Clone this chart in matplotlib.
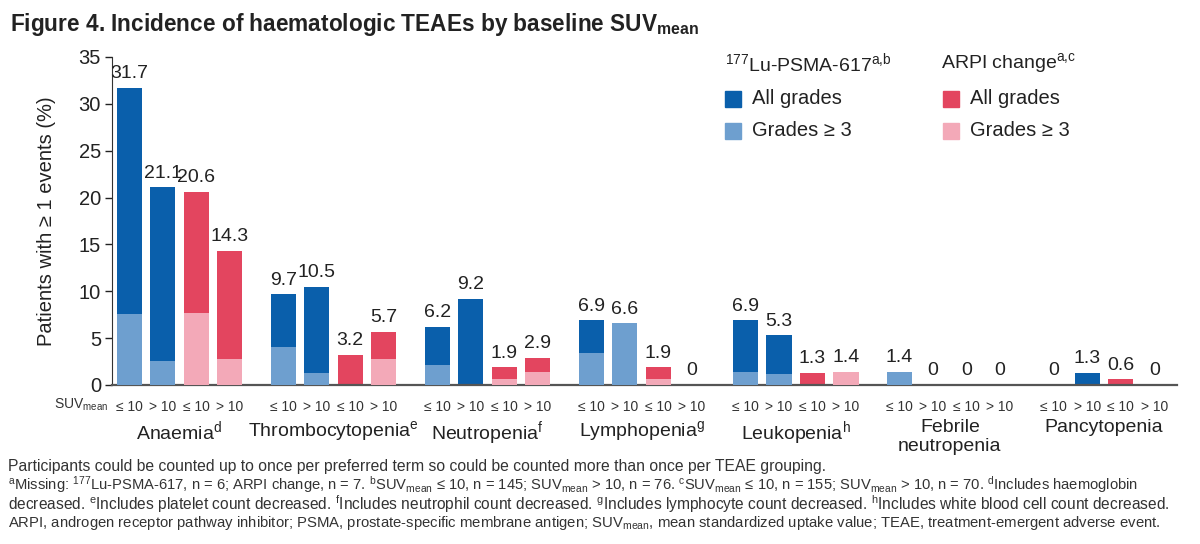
## Incidence of haematologic TEAEs by baseline SUVmean - grouped bar chart

import numpy as np
import matplotlib
matplotlib.use("Agg")
import matplotlib.pyplot as plt
from matplotlib.patches import Rectangle
from matplotlib.transforms import blended_transform_factory

plt.rcParams['font.family'] = ['Liberation Sans', 'DejaVu Sans']
plt.rcParams['mathtext.fontset'] = 'custom'
plt.rcParams['mathtext.rm'] = 'Liberation Sans'
plt.rcParams['mathtext.it'] = 'Liberation Sans:italic'
plt.rcParams['mathtext.bf'] = 'Liberation Sans:bold'

######################
####### DATA #########
######################

groups = ["Anaemia", "Thrombocytopenia", "Neutropenia", "Lymphopenia",
          "Leukopenia", "Febrile\nneutropenia", "Pancytopenia"]
group_sups = ["d", "e", "f", "g", "h", "", ""]
sub_labels = ["≤ 10", "> 10", "≤ 10", "> 10"]

# 177Lu-PSMA-617, SUVmean <= 10 / > 10
lu_le10_all = [31.7, 9.7, 6.2, 6.9, 6.9, 1.4, 0]
lu_le10_g3 = [7.6, 4.1, 2.1, 3.4, 1.4, 1.4, 0]
lu_gt10_all = [21.1, 10.5, 9.2, 6.6, 5.3, 0, 1.3]
lu_gt10_g3 = [2.6, 1.3, 0, 6.6, 1.2, 0, 0]
# ARPI change, SUVmean <= 10 / > 10
arpi_le10_all = [20.6, 3.2, 1.9, 1.9, 1.3, 0, 0.6]
arpi_le10_g3 = [7.7, 0, 0.6, 0.6, 0, 0, 0]
arpi_gt10_all = [14.3, 5.7, 2.9, 0, 1.4, 0, 0]
arpi_gt10_g3 = [2.8, 2.8, 1.4, 0, 1.4, 0, 0]

######################
###### STYLE #########
######################

W, H = 1200, 544
dark_blue = '#0a5fab'
light_blue = '#6e9fcf'
red = '#e3455f'
pink = '#f3a9b8'
txt = '#222222'

def fx(x):
    return x / W

def fy(y):
    return 1 - y / H

fig = plt.figure(figsize=(12, 5.44), dpi=100)
ax = fig.add_axes([fx(112), fy(385), fx(1177) - fx(112), fy(57) - fy(385)])

gap = 4.6     # group spacing in bar units
bw = 0.75

series = [(lu_le10_all, lu_le10_g3, dark_blue, light_blue),
          (lu_gt10_all, lu_gt10_g3, dark_blue, light_blue),
          (arpi_le10_all, arpi_le10_g3, red, pink),
          (arpi_gt10_all, arpi_gt10_g3, red, pink)]

tick_pos = []
tick_lab = []
for j, (allv, g3v, c_all, c_g3) in enumerate(series):
    x = np.arange(len(groups)) * gap + j
    ax.bar(x, allv, width=bw, color=c_all, zorder=2)
    ax.bar(x, g3v, width=bw, color=c_g3, zorder=3)
    for xi, v in zip(x, allv):
        lab = "0" if v == 0 else "%.1f" % v
        ax.annotate(lab, (xi, v), xytext=(0, 4), textcoords='offset points',
                    ha='center', va='bottom', fontsize=14, color=txt)
    tick_pos += list(x)
    tick_lab += [sub_labels[j]] * len(groups)

ax.set_xticks(tick_pos, tick_lab, fontsize=10, color='#333333')
ax.tick_params(axis='x', length=0, pad=11)
ax.set_xlim(-0.51, 31.28)
ax.set_ylim(0, 35)
ax.set_yticks(np.arange(0, 36, 5))
ax.tick_params(axis='y', labelsize=14.5, length=5, width=1, colors=txt, pad=3)
ax.spines['top'].set_visible(False)
ax.spines['right'].set_visible(False)
ax.spines['left'].set_color('#333333')
ax.spines['bottom'].set_color('#555555')
ax.spines['bottom'].set_linewidth(1.6)
ax.set_ylabel("Patients with ≥ 1 events (%)", fontsize=14.5, color=txt, labelpad=16)

trans = blended_transform_factory(ax.transData, fig.transFigure)
ax.text(-0.62, fy(405), r"SUV$_{\mathrm{mean}}$", transform=trans, ha='right',
        va='center', fontsize=10, color='#333333')
for g, (name, sup) in enumerate(zip(groups, group_sups)):
    lab = name if sup == "" else name + r"$^{\mathrm{%s}}$" % sup
    ax.text(g * gap + 1.5, fy(419), lab, transform=trans, ha='center', va='top',
            fontsize=14, color=txt, linespacing=1.15)

######################
###### LEGEND ########
######################

fig.text(fx(725), fy(63), r"$^{177}$Lu-PSMA-617$^{\mathrm{a{,}b}}$", ha='left',
         va='center', fontsize=14, color=txt)
fig.text(fx(941), fy(63), r"ARPI change$^{\mathrm{a{,}c}}$", ha='left',
         va='center', fontsize=14, color=txt)
for x0, cols in [(725, (dark_blue, light_blue)), (943, (red, pink))]:
    for yc, c, lab in [(99, cols[0], "All grades"), (131, cols[1], "Grades ≥ 3")]:
        fig.add_artist(Rectangle((fx(x0), fy(yc + 8)), 16 / W, 16 / H,
                                 transform=fig.transFigure, color=c))
        fig.text(fx(x0 + 27), fy(yc), lab, ha='left', va='center',
                 fontsize=14.5, color=txt)

######################
#### TITLE / NOTES ###
######################

fig.text(fx(10), fy(25), r"Figure 4. Incidence of haematologic TEAEs by baseline SUV$_{\mathbf{mean}}$",
         ha='left', va='center', fontsize=16.3, fontweight='bold', color=txt)

notes = [
    "Participants could be counted up to once per preferred term so could be counted more than once per TEAE grouping.",
    r"$^{\mathrm{a}}$Missing: $^{177}$Lu-PSMA-617, n = 6; ARPI change, n = 7. $^{\mathrm{b}}$SUV$_{\mathrm{mean}}$ ≤ 10, n = 145; "
    r"SUV$_{\mathrm{mean}}$ > 10, n = 76. $^{\mathrm{c}}$SUV$_{\mathrm{mean}}$ ≤ 10, n = 155; SUV$_{\mathrm{mean}}$ > 10, n = 70. "
    r"$^{\mathrm{d}}$Includes haemoglobin",
    r"decreased. $^{\mathrm{e}}$Includes platelet count decreased. $^{\mathrm{f}}$Includes neutrophil count decreased. "
    r"$^{\mathrm{g}}$Includes lymphocyte count decreased. $^{\mathrm{h}}$Includes white blood cell count decreased.",
    r"ARPI, androgen receptor pathway inhibitor; PSMA, prostate-specific membrane antigen; SUV$_{\mathrm{mean}}$, "
    r"mean standardized uptake value; TEAE, treatment-emergent adverse event.",
]
note_sizes = [11.3, 10.6, 11.2, 10.7]
for yy, line, fs in zip([466, 485, 504, 523], notes, note_sizes):
    fig.text(fx(8), fy(yy), line, ha='left', va='center', fontsize=fs,
             color='#333333')

fig.savefig("out.png", dpi=100)
